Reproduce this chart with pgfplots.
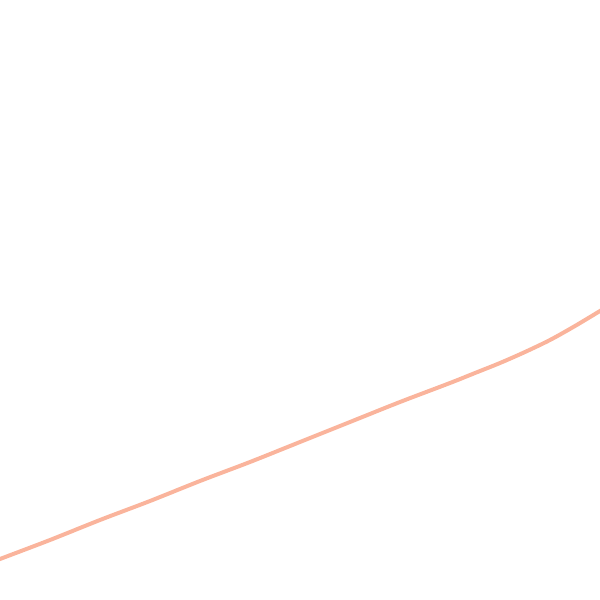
\documentclass[border=0pt]{standalone}
\usepackage{pgfplots}
\pgfplotsset{compat=1.18}
\definecolor{linesalmon}{RGB}{250,180,156}

\begin{document}
\begin{tikzpicture}
\useasboundingbox (0,0) rectangle (6.25in,6.25in);
\begin{axis}[
  at={(0,0)},
  anchor=south west,
  scale only axis,
  width=6.25in,
  height=6.25in,
  xmin=0, xmax=600,
  ymin=0, ymax=600,
  hide axis,
  clip=true,
]
\addplot[color=linesalmon, line width=3pt, smooth, no marks] coordinates {
  (-5,39) (0,41) (50,60) (100,80) (150,99) (200,119) (250,138)
  (300,158) (350,178) (400,198) (450,217) (475,227) (500,237)
  (525,248) (550,260) (575,274) (600,289) (605,292)
};
\end{axis}
\end{tikzpicture}
\end{document}
